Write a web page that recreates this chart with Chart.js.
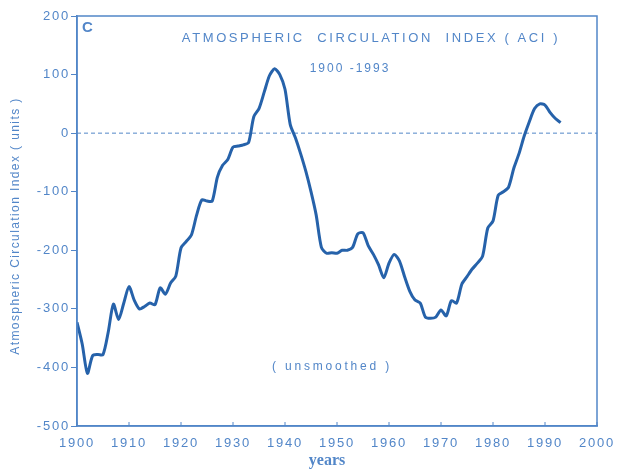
<!DOCTYPE html>
<html>
<head>
<meta charset="utf-8">
<script src="https://cdn.jsdelivr.net/npm/chart.js@4/dist/chart.umd.min.js"></script>
<style>
  html, body { margin: 0; padding: 0; background: #fff; }
  #wrap { width: 618px; height: 472px; }
</style>
</head>
<body>
<div id="wrap"><canvas id="aci"></canvas></div>
<script>
'use strict';

/* ─── Data ──────────────────────────────────────────────────── */
const startYear = 1900;
const aciValues = [
  -323, -360, -410, -380, -378, -378, -340, -292, -318, -290,   // 1900s
  -262, -285, -300, -296, -290, -293, -264, -275, -256, -244,   // 1910s
  -196, -185, -174, -140, -114, -116, -116,  -75,  -55,  -45,   // 1920s
   -24,  -22,  -20,  -16,   28,   42,   70,   98,  110,  100,   // 1930s
    75,   15,   -8,  -35,  -65, -100, -140, -195, -205, -204,   // 1940s
  -205, -200, -200, -195, -172, -170, -192, -207, -225, -247,   // 1950s
  -222, -207, -218, -245, -270, -285, -290, -314, -316, -314,   // 1960s
  -302, -312, -286, -290, -258, -245, -232, -222, -210, -162,   // 1970s
  -150, -106, -100,  -92,  -60,  -35,   -5,   20,   42,   50,   // 1980s
    48,   35,   25,   18                                         // 1990-93
];
const xRange  = [1900, 2000];
const yRange  = [-500, 200];
const xStep   = 10;
const yStep   = 100;

const lineColor = '#2662aa';
const inkColor  = '#5286c8';
const sans      = '"Liberation Sans", Arial, sans-serif';

const aciPoints = aciValues.map((v, i) => ({ x: startYear + i, y: v }));
const zeroLine  = xRange.map(x => ({ x, y: 0 }));

/* ─── Spaced-out lettering like the scanned figure ──────────── */
const spacingPlugin = {
  id: 'spacing',
  beforeDraw(chart) { chart.ctx.letterSpacing = '1.8px'; },
};

/* ─── Frame, inward x ticks + annotations ───────────────────── */
const framePlugin = {
  id: 'frame',
  afterDraw(chart) {
    const { ctx, chartArea: a } = chart;
    const xs = chart.scales.x;
    ctx.save();
    ctx.strokeStyle = inkColor;
    ctx.lineWidth = 1.5;
    ctx.strokeRect(a.left, a.top, a.right - a.left, a.bottom - a.top);

    // small inward ticks on the year axis
    ctx.lineWidth = 1;
    xs.ticks.forEach(t => {
      const px = xs.getPixelForValue(t.value);
      ctx.beginPath();
      ctx.moveTo(px, a.bottom);
      ctx.lineTo(px, a.bottom - 4);
      ctx.stroke();
    });

    ctx.fillStyle = inkColor;
    ctx.textBaseline = 'middle';

    ctx.letterSpacing = '0px';
    ctx.font = `bold 15px ${sans}`;
    ctx.textAlign = 'left';
    ctx.fillText('C', 82, 28);

    ctx.textAlign = 'center';
    ctx.font = `13px ${sans}`;
    ctx.letterSpacing = '2.6px';
    ctx.fillText('ATMOSPHERIC  CIRCULATION  INDEX ( ACI )', 371, 38);

    ctx.letterSpacing = '2px';
    ctx.font = `12px ${sans}`;
    ctx.fillText('1900 -1993', 350, 69);
    ctx.letterSpacing = '2.8px';
    ctx.fillText('( unsmoothed )', 332, 367);

    // rotated axis title
    ctx.save();
    ctx.translate(16, 226);
    ctx.rotate(-Math.PI / 2);
    ctx.letterSpacing = '1.4px';
    ctx.font = `12px ${sans}`;
    ctx.fillText('Atmospheric Circulation Index ( units )', 0, 0);
    ctx.restore();

    ctx.letterSpacing = '0px';
    ctx.font = 'bold 16px "Liberation Serif", "DejaVu Serif", serif';
    ctx.fillText('years', 327, 461);
    ctx.restore();
  }
};

/* ─── Chart ─────────────────────────────────────────────────── */
new Chart(document.getElementById('aci'), {
  type: 'line',
  data: {
    datasets: [
      {
        data: aciPoints,
        borderColor: lineColor,
        borderWidth: 3,
        pointRadius: 0,
        tension: 0.25,
        fill: false,
      },
      {
        data: zeroLine,
        borderColor: inkColor,
        borderWidth: 1,
        borderDash: [4, 3],
        pointRadius: 0,
        fill: false,
      }
    ]
  },
  options: {
    responsive: true,
    maintainAspectRatio: false,
    animation: false,
    layout: { padding: { top: 16, right: 21, left: 0, bottom: 0 } },
    plugins: {
      legend:  { display: false },
      tooltip: { enabled: false },
    },
    scales: {
      x: {
        type: 'linear',
        min: xRange[0],
        max: xRange[1],
        afterFit: s => { s.height = 46; s.paddingLeft = 0; s.paddingRight = 0; },
        border: { color: inkColor, width: 1.5 },
        grid: { drawOnChartArea: false, drawTicks: false },
        ticks: {
          stepSize: xStep,
          color: inkColor,
          padding: 10,
          maxRotation: 0,
          font: { family: sans, size: 13 },
          callback: v => String(v),
        },
      },
      y: {
        min: yRange[0],
        max: yRange[1],
        afterFit: s => { s.width = 77; s.paddingTop = 0; s.paddingBottom = 0; },
        border: { color: inkColor, width: 1.5 },
        grid: { drawOnChartArea: false, drawTicks: true, tickLength: 6, color: inkColor },
        ticks: {
          stepSize: yStep,
          color: inkColor,
          padding: 1,
          font: { family: sans, size: 13 },
        },
      },
    },
  },
  plugins: [spacingPlugin, framePlugin],
});
</script>
</body>
</html>
